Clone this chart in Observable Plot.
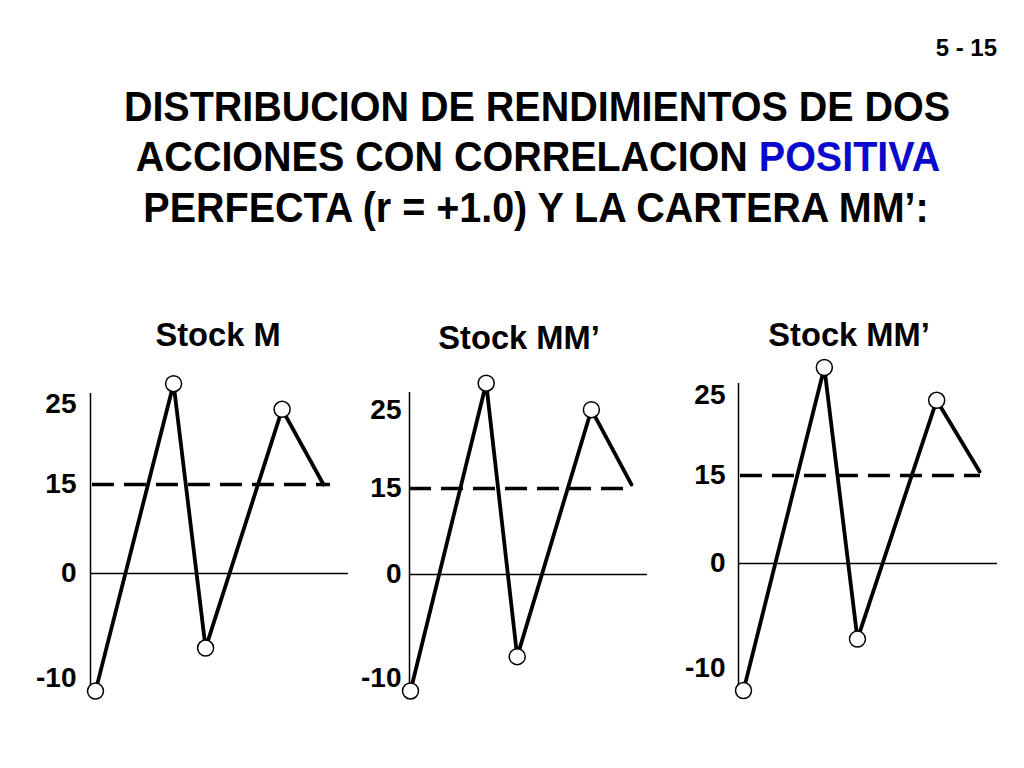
<!DOCTYPE html>
<html><head><meta charset="utf-8">
<script src="https://cdn.jsdelivr.net/npm/d3@7"></script>
<script src="https://cdn.jsdelivr.net/npm/@observablehq/plot@0.6"></script>
<style>
body{margin:0;background:#fff;}
#page{position:relative;width:1024px;height:768px;overflow:hidden;font-family:"Liberation Sans",Arial,sans-serif;font-weight:bold;color:#000;background:#fff;}
.t{position:absolute;white-space:nowrap;line-height:1;}
.blue{color:#0a0acc;}
#page svg{position:absolute;}
</style></head>
<body><div id="page"></div>
<script>
// ---- data ----
const slideNumber = "5 - 15";
const titleLine1 = "DISTRIBUCION DE RENDIMIENTOS DE DOS";
const titleLine2 = "ACCIONES CON CORRELACION ";
const titleHighlight = "POSITIVA";
const titleLine3 = "PERFECTA (r = +1.0) Y LA CARTERA MM’:";
const panelTitles = ["Stock M", "Stock MM’", "Stock MM’"];
const tickValues = [-10, 0, 15, 25];
const meanReturn = 15;
const periods = [0, 1, 1.41, 2.39, 2.92];
const returnsM = [-11.2, 27.6, -7.1, 24.4, 15];
const returnsMM1 = [-11.2, 28.5, -7.9, 25.1, 15.5];
const returnsMM2 = [-12.1, 28.5, -7.2, 24.4, 15.5];
const panelReturns = [returnsM, returnsMM1, returnsMM2];

// ---- layout (page pixels) ----
const layout = [
  {cx:218, cy:334, svgLeft:30,  svgTop:355, fl:90,  fr:348, ft:393, fb:690, xr:[95,323],  yr:[678,573,484,404], axisDx:-5, pad:14, inset:[-3,-7]},
  {cx:519, cy:337, svgLeft:355, svgTop:355, fl:409, fr:647, ft:392, fb:690, xr:[410,631], yr:[678,574,488,410], axisDx:-1, pad:8, inset:[-1,4]},
  {cx:849, cy:334, svgLeft:680, svgTop:345, fl:738, fr:997, ft:383, fb:690, xr:[743,979], yr:[668,563,475,395], axisDx:-5, pad:13, inset:[-3,-1]}
];

const page = document.getElementById("page");
function addText(html, css) {
  const d = document.createElement("div");
  d.className = "t";
  d.innerHTML = html;
  Object.assign(d.style, css);
  page.appendChild(d);
  return d;
}
addText(slideNumber, {right:"27px", top:"36px", fontSize:"24px"});
addText(titleLine1, {left:"537px", top:"86px", fontSize:"42px", transform:"translateX(-50%) scaleX(0.94)"});
addText(titleLine2 + '<span class="blue">' + titleHighlight + '</span>', {left:"538px", top:"136px", fontSize:"42px", transform:"translateX(-50%) scaleX(0.94)"});
addText(titleLine3, {left:"536px", top:"187px", fontSize:"42px", transform:"translateX(-50%) scaleX(0.94)"});

layout.forEach((L, i) => {
  addText(panelTitles[i], {left: L.cx + "px", top: (L.cy - 17) + "px", fontSize:"34px", transform:"translateX(-50%) scaleX(0.96)"});
  const rets = panelReturns[i];
  const data = periods.map((p, j) => ({period: p, ret: rets[j]}));
  const last = periods.length - 1;
  const height = 705 - L.svgTop;
  const width = L.fr + 10 - L.svgLeft;
  const svg = Plot.plot({
    width, height,
    marginLeft: L.fl - L.svgLeft,
    marginRight: 10,
    marginTop: L.ft - L.svgTop,
    marginBottom: L.svgTop + height - L.fb,
    x: {domain: [periods[0], periods[last]], range: L.xr.map(v => v - L.svgLeft), axis: null},
    y: {type: "linear", domain: tickValues, range: L.yr.map(v => v - L.svgTop), ticks: tickValues, tickSize: 0, tickPadding: L.pad, label: null, tickFormat: d => String(d)},
    style: {background: "transparent", fontFamily: '"Liberation Sans", Arial, sans-serif', fontWeight: "bold", fontSize: "28px", color: "#000", overflow: "visible"},
    marks: [
      Plot.ruleX([periods[0]], {dx: L.axisDx, stroke: "#000", strokeWidth: 1.5}),
      Plot.ruleY([0], {stroke: "#000", strokeWidth: 1.5}),
      Plot.ruleY([{y: meanReturn, x1: periods[0], x2: periods[last]}], {y: "y", x1: "x1", x2: "x2", insetLeft: L.inset[0], insetRight: L.inset[1], stroke: "#000", strokeWidth: 3.5, strokeDasharray: "22,10"}),
      Plot.line(data, {x: "period", y: "ret", stroke: "#000", strokeWidth: 3.8, strokeLinejoin: "round"}),
      Plot.dot(data.slice(0, last), {x: "period", y: "ret", r: 8, fill: "white", stroke: "#000", strokeWidth: 1.5})
    ]
  });
  svg.style.left = L.svgLeft + "px";
  svg.style.top = L.svgTop + "px";
  page.appendChild(svg);
});
</script>
</body></html>
